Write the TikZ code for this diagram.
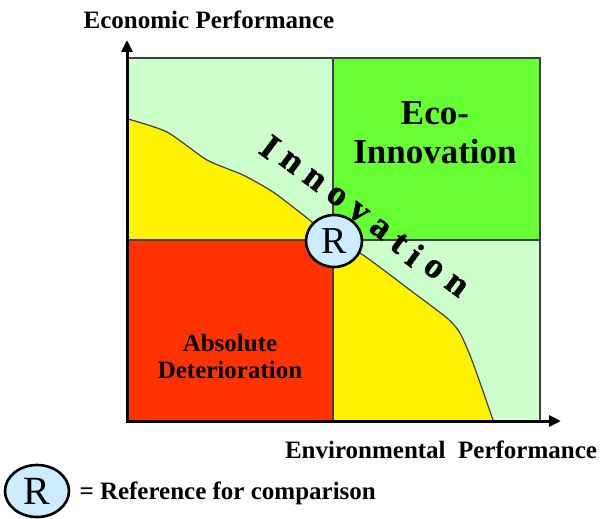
\documentclass[tikz,border=0pt]{standalone}
\usepackage{fontspec}
\setmainfont{Liberation Serif}
\newfontfamily\heavyserif{Liberation Serif}[FakeBold=1.2]
\usepackage{xcolor}
\usetikzlibrary{arrows.meta,shapes.geometric,positioning}
\definecolor{palegreen}{HTML}{CCFFCC}
\definecolor{ecogreen}{HTML}{66FF33}
\definecolor{decline}{HTML}{FF3300}
\definecolor{refblue}{HTML}{CCECFF}
\tikzset{>={Triangle[length=12pt,width=11pt]}}
\tikzset{%
    axis/.style={line width=3pt},
    rim/.style={draw=black!75, line width=1.2pt},
    lbl/.style={font=\fontsize{25}{27}\selectfont\bfseries, inner sep=0pt, align=center},
    slant/.style={font=\fontsize{36}{36}\selectfont\heavyserif\bfseries, inner sep=0pt, rotate=-36.7},
    refmark/.style={ellipse, draw, line width=2.6pt, fill=refblue, inner sep=0pt,
        font=\fontsize{38}{38}\selectfont}
}

\begin{document}
\begin{tikzpicture}[x=1pt,y=-1pt]
\useasboundingbox (0,0) rectangle (602,519);
% quadrants
\fill[palegreen] (128,58) rectangle (333,240);
\fill[ecogreen] (333,58) rectangle (540,240);
\fill[decline] (128,240) rectangle (333,420);
\fill[palegreen] (333,240) rectangle (540,420);

% yellow bands on both sides of R
\fill[yellow] (128,240) -- plot[smooth,tension=0.4] coordinates {(128,119) (167,132) (207,160) (243,175) (273,192) (307,218) (333,240)} -- cycle;
\fill[yellow] (333,420) -- plot[smooth,tension=0.4] coordinates {(333,240) (363,255) (410,290) (447,318) (460,333) (473,363) (493,420)} -- cycle;
\draw[rim] plot[smooth,tension=0.4] coordinates {(128,119) (167,132) (207,160) (243,175) (273,192) (307,218) (333,240)};
\draw[rim] plot[smooth,tension=0.4] coordinates {(333,240) (363,255) (410,290) (447,318) (460,333) (473,363) (493,420)};

\draw[rim] (128,58) -- (540,58) -- (540,420);
\draw[rim] (333,58) -- (333,420);
\draw[rim] (128,240) -- (540,240);

% axes
\coordinate (O) at (127,421);
\coordinate (ytip) at (127,40);
\coordinate (xtip) at (561,421);
\draw[axis,<->] (ytip) -- (O) -- (xtip);

\node[lbl] (ecoperf) at (209,20) {Economic Performance};
\node[lbl] (envperf) at (441,450) {Environmental\ \ Performance};

\node[lbl, font=\fontsize{35}{39}\selectfont\bfseries] (ecoinno) at (435,133) {Eco-\\Innovation};
\node[lbl] (absdet) at (230,356) {Absolute\\Deterioration};

% spaced letters along the diagonal
\coordinate (innov) at (270,147);
\foreach \ch/\s [count=\k] in {I/0,n/26,n/55,o/83,v/110,a/137,t/161,i/181,o/204,n/232}
    \node[slant] (innov\k) at ([shift={(36.7:\s)}]innov) {\ch};

\node[refmark, minimum width=56pt, minimum height=52pt] (ref) at (334,241) {R};

% legend
\node[refmark, minimum width=64pt, minimum height=52pt, font=\fontsize{40}{40}\selectfont] (keyref) at (37,491) {R};
\node[lbl, right=9pt of keyref, yshift=-2pt] (keytext) {= Reference for comparison};
\end{tikzpicture}
\end{document}
